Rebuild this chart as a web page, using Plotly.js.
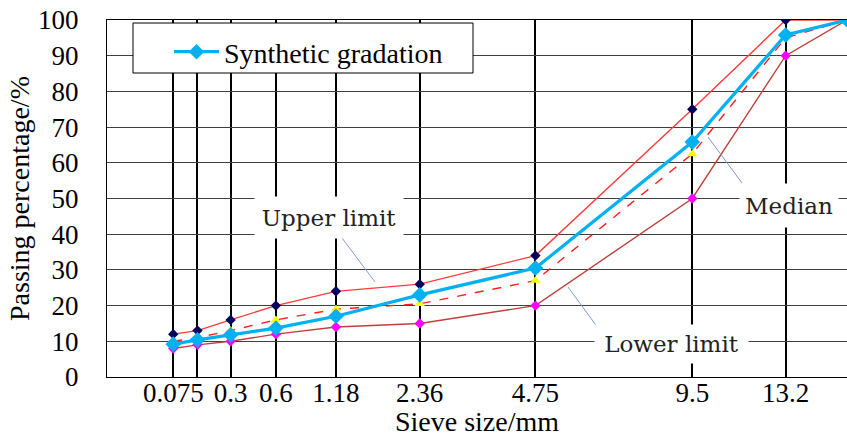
<!DOCTYPE html>
<html>
<head>
<meta charset="utf-8">
<script src="https://cdn.plot.ly/plotly-3.0.1.min.js"></script>
<style>html,body{margin:0;padding:0;background:#fff;}#chart{width:847px;height:437px;}</style>
</head>
<body>
<div id="chart"></div>
<script>
// Sieve sizes (mm) and passing percentages (%)
const sieve = [0.075, 0.15, 0.3, 0.6, 1.18, 2.36, 4.75, 9.5, 13.2, 16];
const upperLimit = [12, 13, 16, 20, 24, 26, 34, 75, 100, 100];
const lowerLimit = [8, 9, 10, 12, 14, 15, 20, 50, 90, 100];
const medianVals = [10, 11, 13, 16, 19, 20.5, 27, 62.5, 95, 100];
const synthetic = [9.2, 10.4, 11.8, 13.7, 17, 23, 30.5, 65.8, 95.8, 100];
const tickSieves = [0.075, 0.15, 0.3, 0.6, 1.18, 2.36, 4.75, 9.5, 13.2];
const tickLabels = ['0.075', '', '0.3', '0.6', '1.18', '2.36', '4.75', '9.5', '13.2'];

// gradation chart: x axis is sieve size raised to 0.45
const POWER = 0.45;
const tx = v => Math.pow(v, POWER);
const xs = sieve.map(tx);

const L = 107, T = 20, W = 740, H = 357;
const px = p => (p - L) / W;
const py = p => (T + H - p) / H;

const serif = 'Liberation Serif, Times New Roman, serif';
const annFont = 'DejaVu Serif, serif';

const traces = [
  {x: xs, y: upperLimit, name: 'Upper limit', mode: 'lines+markers', showlegend: false,
   line: {color: '#FF3B3B', width: 1.4}, marker: {symbol: 'diamond', size: 8, color: '#00005E'}},
  {x: xs, y: lowerLimit, name: 'Lower limit', mode: 'lines+markers', showlegend: false,
   line: {color: '#C0403A', width: 1.4}, marker: {symbol: 'diamond', size: 8, color: '#FF00FF'}},
  {x: xs, y: medianVals, name: 'Median', mode: 'lines+markers', showlegend: false,
   line: {color: '#FF2020', width: 1.4, dash: 'dash'}, marker: {symbol: 'triangle-up', size: 9, color: '#FFFF00'}},
  {x: xs, y: synthetic, name: 'Synthetic gradation', mode: 'lines+markers', showlegend: true,
   line: {color: '#00B0F0', width: 3.2}, marker: {symbol: 'diamond', size: 12, color: '#00B0F0'}}
];

const leader = '#7A9BD3';
const annBase = {xref: 'paper', yref: 'paper', showarrow: false, xanchor: 'center', yanchor: 'middle',
                 bgcolor: '#fff', borderpad: 0, font: {family: annFont, size: 23, color: '#222'}};
const layout = {
  width: 847, height: 437,
  margin: {l: L, r: 0, t: T, b: 60},
  paper_bgcolor: '#fff', plot_bgcolor: '#fff',
  font: {family: serif, size: 27, color: '#000'},
  xaxis: {
    range: [0, tx(16)], tickmode: 'array', tickvals: tickSieves.map(tx), ticktext: tickLabels,
    showgrid: true, gridcolor: '#000', gridwidth: 2, zeroline: false,
    showline: true, linecolor: '#000', linewidth: 1, mirror: true,
    ticks: '', ticklabelstandoff: -8, tickfont: {family: serif, size: 27},
    title: {text: 'Sieve size/mm', font: {family: serif, size: 28}, standoff: 0}
  },
  yaxis: {
    range: [0, 100], dtick: 10, tick0: 0,
    showgrid: true, gridcolor: '#404040', gridwidth: 1, zeroline: false,
    showline: true, linecolor: '#000', linewidth: 1, mirror: true,
    ticks: '', ticklabelstandoff: 22, tickfont: {family: serif, size: 27},
    title: {text: 'Passing percentage/%', font: {family: serif, size: 28}, standoff: 0}
  },
  showlegend: true,
  legend: {x: px(169), y: py(27), xanchor: 'left', yanchor: 'top', bgcolor: 'rgba(0,0,0,0)',
           borderwidth: 0, itemwidth: 45, font: {family: serif, size: 28}},
  shapes: [
    {type: 'rect', xref: 'paper', yref: 'paper', x0: px(133), x1: px(473), y0: py(73), y1: py(23),
     fillcolor: '#fff', line: {color: '#000', width: 1}, layer: 'above'},
    {type: 'line', xref: 'paper', yref: 'paper', x0: px(342), y0: py(238), x1: px(375), y1: py(282),
     line: {color: leader, width: 1}, layer: 'above'},
    {type: 'line', xref: 'paper', yref: 'paper', x0: px(568), y0: py(287), x1: px(601), y1: py(332),
     line: {color: leader, width: 1}, layer: 'above'},
    {type: 'line', xref: 'paper', yref: 'paper', x0: px(708), y0: py(137), x1: px(742), y1: py(183),
     line: {color: leader, width: 1}, layer: 'above'}
  ],
  annotations: [
    Object.assign({}, annBase, {text: 'Upper limit', x: px(329), y: py(217.5), width: 148, height: 41}),
    Object.assign({}, annBase, {text: 'Lower limit', x: px(671.5), y: py(344), width: 153, height: 38}),
    Object.assign({}, annBase, {text: 'Median', x: px(789), y: py(206), width: 98, height: 43})
  ]
};

Plotly.newPlot('chart', traces, layout, {staticPlot: true, displayModeBar: false});
</script>
</body>
</html>
